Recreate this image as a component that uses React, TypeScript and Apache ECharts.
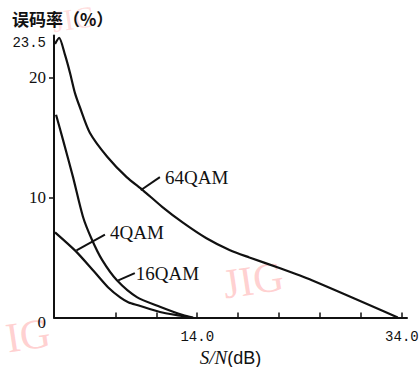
import React, { useEffect, useRef } from "react";
import * as echarts from "echarts";

// S/N (dB) and bit error rate (%)
const qam64X = [0.1, 0.5, 1.07, 1.56, 2.05, 2.54, 3.5, 5.2, 7.1, 8.7, 10.6, 12.6, 14.9, 17.2, 19.1, 22.1, 25.2, 33.6];
const qam64Y = [22.8, 23.3, 21.9, 20.4, 18.7, 17.5, 15.4, 13.4, 11.7, 10.6, 9.2, 7.9, 6.6, 5.6, 5.0, 4.1, 3.1, 0];

const qam16X = [0.2, 0.88, 1.86, 2.83, 3.7, 4.7, 6.15, 8.1, 10.35, 12.6, 13.6];
const qam16Y = [16.9, 14.8, 11.7, 8.4, 6.5, 4.8, 3.1, 1.7, 0.9, 0.2, 0];

const qam4X = [0.1, 2.1, 3.9, 5.3, 6.5, 7.3, 8.2, 10.35, 12.6, 13.3];
const qam4Y = [7.1, 5.55, 3.85, 2.5, 1.65, 1.25, 1.02, 0.46, 0.12, 0];

const xTickValues = [6, 10, 14, 18, 22, 26, 30, 34];
const xLabelValues = [14, 34];
const yTickValues = [10, 20];
const yLabelValues = [0, 10, 20, 23.5];

const seriesNames = ["64QAM", "16QAM", "4QAM"];

// annotation anchors in data coordinates: leader start, leader end, text start
const annotations = [
  { name: "64QAM", from: [8.47, 10.6], to: [10.35, 11.7], text: [10.85, 11.7] },
  { name: "4QAM", from: [2.2, 5.6], to: [4.98, 6.9], text: [5.47, 7.1] },
  { name: "16QAM", from: [6.28, 3.1], to: [7.9, 3.7], text: [8.0, 3.7] },
];

const zip = (xs: number[], ys: number[]) => xs.map((x, i) => [x, ys[i]]);

export default function App() {
  const ref = useRef<HTMLDivElement>(null);
  useEffect(() => {
    if (!ref.current) return;
    const chart = echarts.init(ref.current, null, { renderer: "svg" });
    const lineStyle = { color: "#111", width: 2.2 };
    const mkSeries = (name: string, xs: number[], ys: number[]) => ({
      name,
      type: "line",
      data: zip(xs, ys),
      smooth: 0.25,
      showSymbol: false,
      lineStyle,
    });
    chart.setOption({
      animation: false,
      backgroundColor: "#fff",
      grid: {
        left: 54,
        right: 13,
        top: 35.5,
        bottom: 49.5,
        containLabel: false,
        outerBoundsMode: "none",
      },
      xAxis: {
        type: "value",
        min: 0,
        max: 34.5,
        splitLine: { show: false },
        axisLine: { lineStyle: { color: "#111", width: 2 } },
        axisTick: {
          inside: true,
          length: 5,
          customValues: xTickValues,
          lineStyle: { color: "#111", width: 1.5 },
        },
        axisLabel: {
          customValues: xLabelValues,
          formatter: (v: number) => v.toFixed(1),
          color: "#111",
          fontFamily: "Liberation Mono",
          fontSize: 14,
          margin: 12,
        },
        name: "{i|S/N}(dB)",
        nameLocation: "middle",
        nameGap: 25,
        nameTextStyle: {
          color: "#111",
          fontFamily: "Liberation Sans",
          fontSize: 18,
          rich: {
            i: { fontFamily: "Liberation Serif", fontStyle: "italic", fontSize: 19, color: "#111" },
          },
        },
      },
      yAxis: {
        type: "value",
        min: 0,
        max: 23.5,
        splitLine: { show: false },
        axisLine: { lineStyle: { color: "#111", width: 2 } },
        axisTick: {
          length: 5,
          customValues: yTickValues,
          lineStyle: { color: "#111", width: 1.5 },
        },
        axisLabel: {
          customValues: yLabelValues,
          margin: 8,
          verticalAlignMinLabel: "middle",
          verticalAlignMaxLabel: "middle",
          formatter: (v: number) =>
            v === 23.5 ? "{m|23.5}" : v === 0 ? "{z|0}" : "{s|" + v + "}",
          rich: {
            m: { fontFamily: "Liberation Mono", fontSize: 14, color: "#111", padding: [15, 0, 0, 0] },
            s: { fontFamily: "Liberation Serif", fontSize: 17, color: "#111" },
            z: { fontFamily: "Liberation Serif", fontSize: 17, color: "#111", padding: [9, 0, 0, 0] },
          },
        },
      },
      series: [
        mkSeries(seriesNames[0], qam64X, qam64Y),
        mkSeries(seriesNames[1], qam16X, qam16Y),
        mkSeries(seriesNames[2], qam4X, qam4Y),
      ],
    });

    const px = (p: number[]) => chart.convertToPixel({ gridIndex: 0 }, p) as number[];
    const graphics: any[] = [
      {
        type: "text",
        left: 12,
        top: 10,
        style: {
          text: "误码率（%）",
          fontFamily: "Noto Sans CJK SC",
          fontWeight: "bold",
          fontSize: 17,
          fill: "#111",
        },
      },
      // pink watermarks
      {
        type: "text",
        x: 50,
        y: 7,
        rotation: 0.15,
        style: { text: "JIG", fontFamily: "Liberation Serif", fontSize: 30, fill: "rgba(255,170,170,0.4)" },
        z: -1,
      },
      {
        type: "text",
        x: 220,
        y: 264,
        rotation: 0.15,
        style: { text: "JIG", fontFamily: "Liberation Serif", fontSize: 42, fill: "rgba(255,170,170,0.55)" },
        z: -1,
      },
      {
        type: "text",
        x: 3,
        y: 318,
        rotation: 0.15,
        style: { text: "IG", fontFamily: "Liberation Serif", fontSize: 42, fill: "rgba(255,170,170,0.55)" },
        z: -1,
      },
    ];
    annotations.forEach((a) => {
      const f = px(a.from);
      const t = px(a.to);
      const s = px(a.text);
      graphics.push({
        type: "line",
        shape: { x1: f[0], y1: f[1], x2: t[0], y2: t[1] },
        style: { stroke: "#111", lineWidth: 2 },
      });
      graphics.push({
        type: "text",
        x: s[0],
        y: s[1],
        style: {
          text: a.name,
          fontFamily: "Liberation Serif",
          fontSize: 19,
          fill: "#111",
          verticalAlign: "middle",
          align: "left",
        },
      });
    });
    chart.setOption({ graphic: graphics });
    return () => chart.dispose();
  }, []);
  return (
    <div
      ref={ref}
      style={{ position: "fixed", left: 0, top: 0, width: 420, height: 367 }}
    />
  );
}
